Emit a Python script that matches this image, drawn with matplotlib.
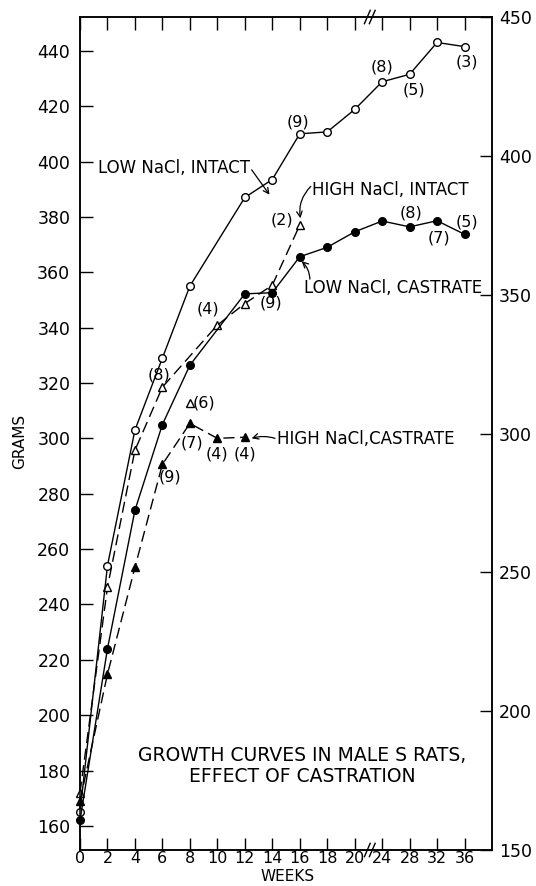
import numpy as np
import matplotlib
matplotlib.use("Agg")
import matplotlib.pyplot as plt

# ---------------- data ----------------
weeks_low_intact = [0, 2, 4, 6, 8, 12, 14, 16, 18, 20, 24, 28, 32, 36]
grams_low_intact = [165, 254, 303, 329, 355, 387, 393.5, 410, 410.7, 418.8, 428.8, 431.5, 443, 441.5]

weeks_low_castrate = [0, 2, 4, 6, 8, 12, 14, 16, 18, 20, 24, 28, 32, 36]
grams_low_castrate = [162, 224, 274, 305, 326.4, 352.2, 352.6, 365.6, 369, 374.6, 378.5, 376.4, 378.6, 373.7]

weeks_high_intact = [0, 2, 4, 6, 10, 12, 14, 16]
grams_high_intact = [172, 246.2, 295.7, 318.5, 340.9, 348.7, 355.3, 377]

weeks_high_intact_extra = [8]
grams_high_intact_extra = [312.8]

weeks_high_castrate = [0, 2, 4, 6, 8, 10, 12]
grams_high_castrate = [169, 214.8, 253.4, 290.6, 305.4, 300, 300.4]

week_ticks = [0, 2, 4, 6, 8, 10, 12, 14, 16, 18, 20, 24, 28, 32, 36]
left_ticks = list(range(160, 441, 20))
right_ticks = list(range(150, 451, 50))


# broken time axis: 2-week slots up to 20, then 4-week slots
def fwd(w):
    w = np.asarray(w, dtype=float)
    return np.where(w <= 20, w / 2.0, 10 + (w - 20) / 4.0)


def inv(p):
    p = np.asarray(p, dtype=float)
    return np.where(p <= 10, 2.0 * p, 20 + 4.0 * (p - 10))


FS = 12.5
fig = plt.figure(figsize=(5.36, 8.86), dpi=100)
ax = fig.add_axes([80 / 536, 1 - 850 / 886, (492 - 80) / 536, (850 - 17) / 886])
ax.set_xscale("function", functions=(fwd, inv))
ax.set_xlim(0, 40)
ax.set_ylim(151.3, 452.2)

lw = 1.0
ms = 5.5
ax.plot(weeks_low_intact, grams_low_intact, "-", color="black", lw=lw,
        marker="o", ms=ms, mfc="white", mec="black", mew=1.0, clip_on=False, zorder=4)
ax.plot(weeks_low_castrate, grams_low_castrate, "-", color="black", lw=lw,
        marker="o", ms=ms, mfc="black", mec="black", mew=1.0, clip_on=False, zorder=4)
ax.plot(weeks_high_intact, grams_high_intact, "--", color="black", lw=lw, dashes=(8, 4),
        marker="^", ms=ms + 0.5, mfc="white", mec="black", mew=1.0, clip_on=False, zorder=3)
ax.plot(weeks_high_intact_extra, grams_high_intact_extra, linestyle="none",
        marker="^", ms=ms + 0.5, mfc="white", mec="black", mew=1.0, zorder=3)
ax.plot(weeks_high_castrate, grams_high_castrate, "--", color="black", lw=lw, dashes=(8, 4),
        marker="^", ms=ms, mfc="black", mec="black", mew=1.0, clip_on=False, zorder=3)

# axes styling
for s in ax.spines.values():
    s.set_linewidth(1.1)
ax.set_xticks(week_ticks)
ax.set_xticklabels([str(w) for w in week_ticks])
ax.xaxis.set_minor_locator(matplotlib.ticker.NullLocator())
ax.set_yticks(left_ticks)
ax.tick_params(axis="x", direction="in", length=9, width=1.0, top=True, labelsize=11.5, pad=1)
ax.tick_params(axis="y", direction="in", length=9, width=1.0, right=False, labelsize=FS, pad=7)
ax.set_xlabel("WEEKS", fontsize=11)
ax.xaxis.set_label_coords(0.505, -0.0225)
ax.set_ylabel("GRAMS", fontsize=11)
ax.yaxis.set_label_coords(-0.128, 0.49)

ax2 = ax.twinx()
ax2.set_ylim(150, 450)
ax2.set_yticks(right_ticks)
ax2.tick_params(axis="y", direction="in", length=9, width=1.0, labelsize=FS, pad=5)
for s in ax2.spines.values():
    s.set_linewidth(1.1)

# axis break marks
for yb in (0.0, 1.0):
    for dx in (-0.006, 0.006):
        xa = (10.55 / 15.0) + dx
        ax.plot([xa - 0.007, xa + 0.007], [yb - 0.008, yb + 0.008], transform=ax.transAxes,
                color="black", lw=1.0, clip_on=False, zorder=6)

# annotations
tkw = dict(fontsize=11.5, ha="center", va="center")
for (x, y, s) in [
    (15.84, 414.3, "(9)"), (23.92, 434.1, "(8)"), (28.6, 425.8, "(5)"), (36.28, 436.0, "(3)"),
    (14.7, 378.9, "(2)"), (9.28, 346.7, "(4)"), (13.92, 348.9, "(9)"),
    (28.16, 381.5, "(8)"), (32.24, 372.4, "(7)"), (36.32, 378.2, "(5)"),
    (5.72, 322.9, "(8)"), (9.03, 312.8, "(6)"), (8.12, 298.4, "(7)"),
    (9.94, 294.3, "(4)"), (12.04, 294.3, "(4)"), (6.56, 286.0, "(9)"),
]:
    ax.text(x, y, s, **tkw)

lab = dict(fontsize=12, ha="left", va="center")
ax.text(1.34, 397.6, "LOW NaCl, INTACT", **lab)
ax.annotate("", xy=(13.8, 388.0), xytext=(12.5, 397.0),
            arrowprops=dict(arrowstyle="->", color="black", lw=0.9, shrinkA=0, shrinkB=0))
ax.text(16.86, 389.7, "HIGH NaCl, INTACT", **lab)
ax.annotate("", xy=(16.05, 379.5), xytext=(16.8, 391.0),
            arrowprops=dict(arrowstyle="->", color="black", lw=0.9, shrinkA=0, shrinkB=0,
                            connectionstyle="arc3,rad=0.25"))
ax.text(16.28, 354.3, "LOW NaCl, CASTRATE", **lab)
ax.annotate("", xy=(16.14, 364.0), xytext=(16.74, 357.5),
            arrowprops=dict(arrowstyle="->", color="black", lw=0.9, shrinkA=0, shrinkB=0,
                            connectionstyle="arc3,rad=0.2"))
ax.text(14.32, 299.8, "HIGH NaCl,CASTRATE", **lab)
ax.annotate("", xy=(12.5, 300.0), xytext=(14.2, 300.0),
            arrowprops=dict(arrowstyle="->", color="black", lw=0.9, shrinkA=0, shrinkB=0,
                            connectionstyle="arc3,rad=0.15"))

ax.text(16.16, 185.6, "GROWTH CURVES IN MALE S RATS,", fontsize=13.5, ha="center", va="center")
ax.text(16.16, 177.7, "EFFECT OF CASTRATION", fontsize=13.5, ha="center", va="center")

fig.savefig("out.png", dpi=100)
